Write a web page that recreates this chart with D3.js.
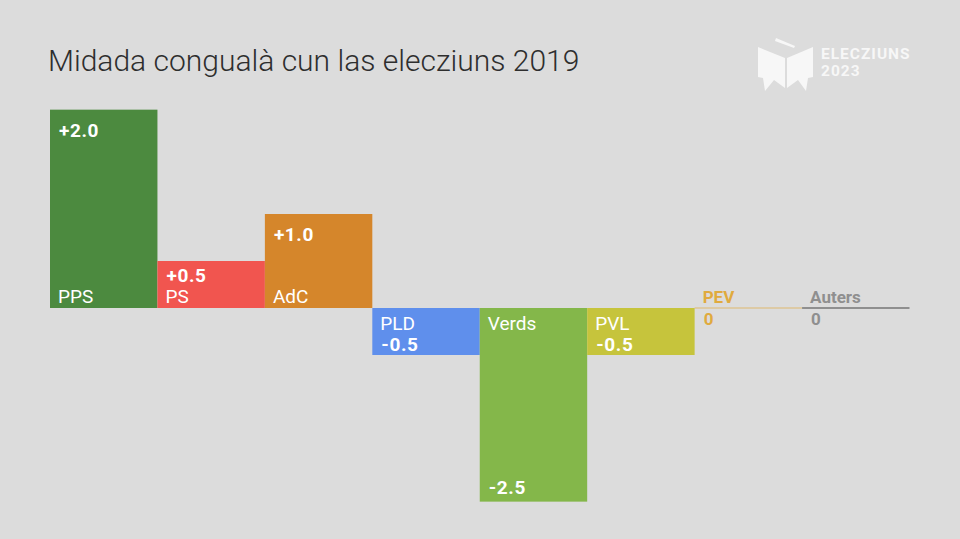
<!DOCTYPE html>
<html>
<head>
  <meta charset="UTF-8">
  <script src="https://cdnjs.cloudflare.com/ajax/libs/d3/7.8.5/d3.min.js"></script>
  <style>
      html, body {
          margin: 0;
          padding: 0;
          background: #dcdcdc;
      }
      svg {
          display: block;
          font-family: Roboto, sans-serif;
      }
  </style>
</head>
<body>
<div id="root"></div>
<script>

  // parties, in drawing order
  var parties = ["PPS", "PS", "AdC", "PLD", "Verds", "PVL", "PEV", "Auters"];
  // bar lengths
  var seats = [2.11, 0.5, 1.0, -0.5, -2.06, -0.5, 0, 0];
  // the labels printed on the bars
  var seatLabels = ["+2.0", "+0.5", "+1.0", "-0.5", "-2.5", "-0.5", "0", "0"];
  var colors = ["#4c8a3f", "#f1554f", "#d5862b", "#5f8fec", "#84b74a", "#c6c43c", "#e0aa3e", "#8f8f8f"];

  var width = 960, height = 539;

  var x = d3.scaleBand().domain(parties).range([50, 909.5]);
  var y = d3.scaleLinear().domain([-2.5, 2.5]).range([543, 73]);

  var svg = d3.select("#root").append("svg")
    .attr("width", width)
    .attr("height", height);

  svg.append("rect")
    .attr("width", width)
    .attr("height", height)
    .attr("fill", "#dcdcdc");

  svg.append("text")
    .attr("x", 48)
    .attr("y", 71)
    .attr("font-size", 30)
    .attr("font-weight", 300)
    .attr("fill", "#2e2e2e")
    .text("Midada congualà cun las elecziuns 2019");

  // logo top right
  var logo = svg.append("g").attr("fill", "#f7f7f7");
  logo.append("path").attr("d", "M758,47L785,58V88L774,80L765,91L763,78L758,77Z");
  logo.append("path").attr("d", "M813,47L787,58V88L798,80L806,91L808,78L813,77Z");
  logo.append("path").attr("d", "M776,38L795,46L794,48L775,41Z");
  logo.selectAll("text")
    .data(["ELECZIUNS", "2023"])
    .join("text")
    .attr("x", 821)
    .attr("y", function(d, i) { return 59 + i * 17; })
    .attr("font-size", 15.5)
    .attr("font-weight", 700)
    .attr("letter-spacing", 1)
    .text(function(d) { return d; });

  var rows = parties.map(function(p, i) {
    return {name: p, value: seats[i], label: seatLabels[i], color: colors[i]};
  });

  var bars = svg.selectAll("g.bar")
    .data(rows)
    .join("g")
    .attr("class", "bar");

  // zero parties get a thin line instead of a bar
  bars.filter(function(d) { return d.value !== 0; })
    .append("rect")
    .attr("x", function(d) { return x(d.name); })
    .attr("width", x.bandwidth())
    .attr("y", function(d) { return Math.min(y(d.value), y(0)); })
    .attr("height", function(d) { return Math.abs(y(d.value) - y(0)); })
    .attr("fill", function(d) { return d.color; });

  bars.filter(function(d) { return d.value === 0; })
    .append("line")
    .attr("x1", function(d) { return x(d.name); })
    .attr("x2", function(d) { return x(d.name) + x.bandwidth(); })
    .attr("y1", y(0))
    .attr("y2", y(0))
    .attr("stroke", function(d) { return d.color; })
    .attr("stroke-opacity", function(d) { return d.name === "PEV" ? 0.35 : 1; })
    .attr("stroke-width", 2);

  // party name
  bars.append("text")
    .attr("x", function(d) { return x(d.name) + 8; })
    .attr("y", function(d) { return d.value < 0 ? y(0) + 22 : y(0) - 5; })
    .attr("font-size", function(d) { return d.value === 0 ? 17 : 19; })
    .attr("font-weight", function(d) { return d.value === 0 ? 700 : 400; })
    .attr("fill", function(d) { return d.value === 0 ? d.color : "#fff"; })
    .text(function(d) { return d.name; });

  // value label, at the far end of long bars
  bars.append("text")
    .attr("x", function(d) { return x(d.name) + 9; })
    .attr("y", function(d) {
      if (d.value === 0) return y(0) + 17;
      if (d.value < 0) return Math.abs(y(d.value) - y(0)) > 60 ? y(d.value) - 8 : y(d.value) - 4;
      return Math.abs(y(d.value) - y(0)) > 60 ? y(d.value) + 27 : y(d.value) + 21;
    })
    .attr("font-size", function(d) { return d.value === 0 ? 17 : 19; })
    .attr("font-weight", 700)
    .attr("letter-spacing", function(d) { return d.value === 0 ? 0 : 0.6; })
    .attr("fill", function(d) { return d.value === 0 ? d.color : "#fff"; })
    .text(function(d) { return d.label; });

</script>
</body>
</html>
